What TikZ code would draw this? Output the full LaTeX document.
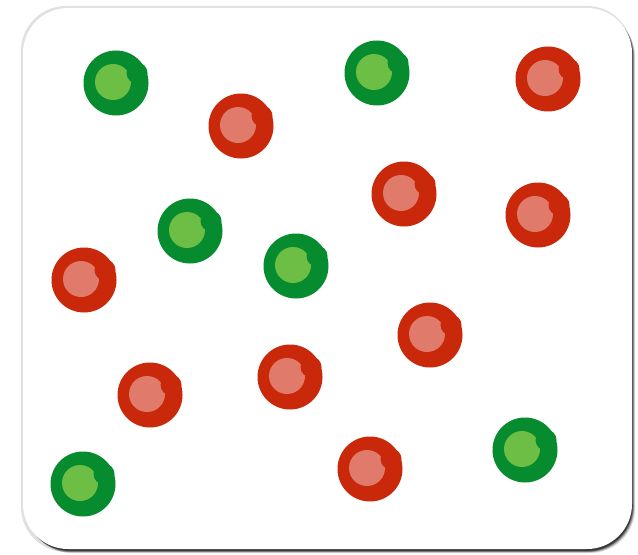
\documentclass[tikz,border=0pt]{standalone}
\usetikzlibrary{calc}
\definecolor{leaf}{HTML}{068C2F}
\definecolor{lime}{HTML}{6DBE45}
\definecolor{brick}{HTML}{C9280B}
\definecolor{salmon}{HTML}{E07B6B}

\begin{document}
\begin{tikzpicture}[x=0.02cm,y=-0.02cm]
  \useasboundingbox (0,0) rectangle (638,554);
  % card with soft shadow
  \fill[black!12,rounded corners=0.9cm] (21,6) rectangle (632,552);
  \foreach \d/\o in {7/.10,6/.15,5/.2,4/.3,3/.4}
    \fill[black,opacity=\o,rounded corners=0.9cm] (23+\d*.6,8+\d*.6) rectangle (631+\d*.6,549+\d*.6);
  \fill[white,rounded corners=0.9cm] (23,8) rectangle (632,549);

  % brush dots: x/y/dark/light
  \foreach \cx/\cy/\dk/\lt in {116/83/leaf/lime,377/73/leaf/lime,190/231/leaf/lime,
      296/266/leaf/lime,83/484/leaf/lime,525/450/leaf/lime,
      241/126/brick/salmon,548/79/brick/salmon,404/194/brick/salmon,538/215/brick/salmon,
      84/280/brick/salmon,430/335/brick/salmon,150/395/brick/salmon,290/377/brick/salmon,
      370/469/brick/salmon}{
    \fill[\dk] (\cx,\cy) circle (32.5);
    \fill[\lt] (\cx-3,\cy-1) circle (18);
    \fill[\dk] (\cx+21,\cy-10) circle (10.5);
  }
\end{tikzpicture}
\end{document}
